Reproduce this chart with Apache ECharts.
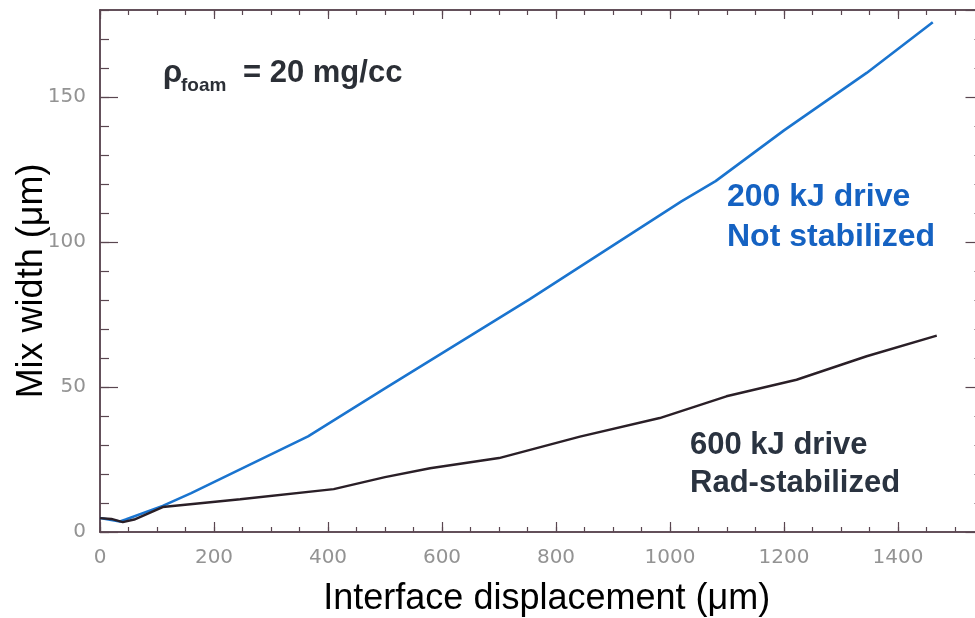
<!DOCTYPE html>
<html>
<head>
<meta charset="utf-8">
<script src="https://cdn.jsdelivr.net/npm/echarts@6.0.0/dist/echarts.min.js"></script>
<style>
  html, body { margin: 0; padding: 0; background: #fff; }
  #chart { width: 975px; height: 618px; }
</style>
</head>
<body>
<div id="chart"></div>
<script>
// values (x: interface displacement um, y: mix width um)
var blueX = [0, 35, 45, 110, 160, 365, 500, 754, 1020, 1080, 1200, 1345, 1461];
var blueY = [4.8, 3.6, 4.3, 9.0, 13.4, 33.0, 49.5, 80.3, 114.0, 121.0, 138.5, 158.3, 175.8];

var blackX = [0, 20, 40, 60, 110, 246, 410, 500, 579, 700, 842, 982, 1099, 1222, 1345, 1468];
var blackY = [4.8, 4.5, 3.4, 4.3, 8.6, 11.3, 14.8, 18.9, 22.0, 25.5, 32.9, 39.3, 46.8, 52.5, 60.6, 67.7];

var xTicks = [0, 200, 400, 600, 800, 1000, 1200, 1400];
var yTicks = [0, 50, 100, 150];

var frame = '#5a4650';
var labelFont = 'DejaVu Sans';
var titleFont = 'Liberation Sans';

function pairs(xs, ys) {
  return xs.map(function (x, i) { return [x, ys[i]]; });
}

var myChart = echarts.init(document.getElementById('chart'));

// axis helper: a major axis and a minor one on every side
function xAx(pos, interval, len, labels) {
  return {
    type: 'value', position: pos, gridIndex: 0,
    min: 0, max: 1550, interval: interval,
    axisLine: { show: true, onZero: false, lineStyle: { color: frame, width: 1.5 } },
    axisTick: { show: true, inside: true, length: len, lineStyle: { color: frame, width: 1.2 } },
    axisLabel: labels ? {
      show: true, margin: 16, color: '#939393', fontSize: 20, fontFamily: labelFont,
      showMaxLabel: false,
      formatter: function (v) { return xTicks.indexOf(v) >= 0 ? String(v) : ''; }
    } : { show: false },
    splitLine: { show: false }
  };
}
function yAx(pos, interval, len, labels) {
  return {
    type: 'value', position: pos, gridIndex: 0,
    min: 0, max: 180, interval: interval,
    axisLine: { show: true, onZero: false, lineStyle: { color: frame, width: 1.5 } },
    axisTick: { show: true, inside: true, length: len, lineStyle: { color: frame, width: 1.2 } },
    axisLabel: labels ? {
      show: true, margin: 14, color: '#939393', fontSize: 20, fontFamily: labelFont,
      showMaxLabel: false,
      formatter: function (v) { return yTicks.indexOf(v) >= 0 ? String(v) : ''; }
    } : { show: false },
    splitLine: { show: false }
  };
}

var xMain = xAx('bottom', 200, 10, true);
xMain.name = 'Interface displacement (\u03bcm)';
xMain.nameLocation = 'middle';
xMain.nameGap = 49;
xMain.nameMoveOverlap = false;
xMain.nameTextStyle = { color: '#000', fontSize: 36, fontFamily: titleFont, padding: [0, 0, 0, 10] };

var yMain = yAx('left', 50, 18, true);
yMain.name = 'Mix width (\u03bcm)';
yMain.nameLocation = 'middle';
yMain.nameGap = 50;
yMain.nameRotate = 90;
yMain.nameMoveOverlap = false;
yMain.nameTextStyle = { color: '#000', fontSize: 36, fontFamily: titleFont, padding: [0, 20, 0, 0] };

var option = {
  backgroundColor: '#ffffff',
  animation: false,
  grid: {
    left: 100, top: 10, width: 883.5, height: 522,
    containLabel: false, outerBoundsMode: 'none'
  },
  xAxis: [
    xMain,
    xAx('bottom', 50, 5, false),
    xAx('top', 200, 9, false),
    xAx('top', 50, 5, false)
  ],
  yAxis: [
    yMain,
    yAx('left', 10, 9, false),
    yAx('right', 50, 18, false),
    yAx('right', 10, 9, false)
  ],
  series: [
    {
      name: '200 kJ drive', type: 'line', xAxisIndex: 0, yAxisIndex: 0,
      data: pairs(blueX, blueY), showSymbol: false, smooth: false,
      lineStyle: { color: '#1a74cf', width: 2.6 }
    },
    {
      name: '600 kJ drive', type: 'line', xAxisIndex: 0, yAxisIndex: 0,
      data: pairs(blackX, blackY), showSymbol: false, smooth: false,
      lineStyle: { color: '#2a1f27', width: 2.4 }
    }
  ],
  graphic: [
    { type: 'text', left: 163, top: 58, style: { text: '\u03c1', font: 'bold 31px Liberation Sans', fill: '#2b2f36' } },
    { type: 'text', left: 181, top: 76, style: { text: 'foam', font: 'bold 19px Liberation Sans', fill: '#2b2f36' } },
    { type: 'text', left: 243, top: 58, style: { text: '= 20 mg/cc', font: 'bold 31px Liberation Sans', fill: '#2b2f36' } },
    { type: 'text', left: 727, top: 181, style: { text: '200 kJ drive', font: 'bold 32px Liberation Sans', fill: '#1562c2' } },
    { type: 'text', left: 727, top: 221, style: { text: 'Not stabilized', font: 'bold 32px Liberation Sans', fill: '#1562c2' } },
    { type: 'text', left: 690, top: 430, style: { text: '600 kJ drive', font: 'bold 31px Liberation Sans', fill: '#2a3340' } },
    { type: 'text', left: 690, top: 468, style: { text: 'Rad-stabilized', font: 'bold 31px Liberation Sans', fill: '#2a3340' } }
  ]
};

myChart.setOption(option);
</script>
</body>
</html>
